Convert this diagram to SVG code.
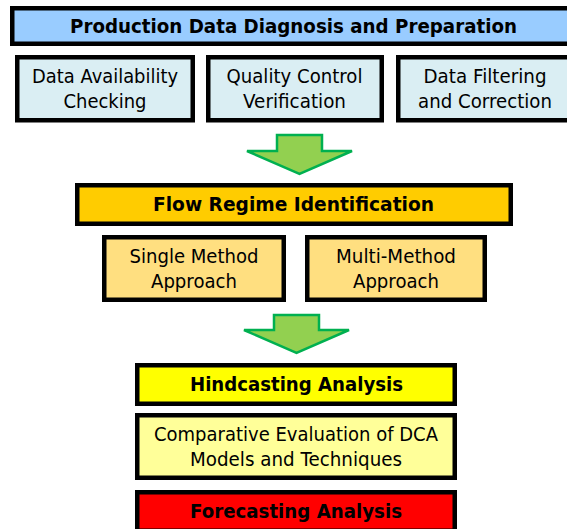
<svg xmlns="http://www.w3.org/2000/svg" width="567" height="529" viewBox="0 0 567 529">
<style>
.box{stroke:#000;stroke-width:4.5}
.t{font-family:"DejaVu Sans","Liberation Sans",sans-serif;font-size:19.5px;fill:#000;text-anchor:middle}
.b{font-weight:bold;font-size:19px}
.arr{fill:#92D050;stroke:#00B050;stroke-width:2.5;stroke-linejoin:miter}
</style>
<rect width="567" height="529" fill="#fff"/>
<g id="production-data">
<rect class="box" x="12.25" y="8.25" width="570" height="35.5" fill="#99CCFF"/>
<text class="t b" x="293.5" y="33" textLength="447" lengthAdjust="spacingAndGlyphs">Production Data Diagnosis and Preparation</text>
</g>
<g id="data-availability">
<rect class="box" x="17.25" y="57.25" width="175.5" height="63" fill="#DAEEF3"/>
<text class="t" x="105" y="83" textLength="146" lengthAdjust="spacingAndGlyphs">Data Availability</text>
<text class="t" x="105" y="108" textLength="83" lengthAdjust="spacingAndGlyphs">Checking</text>
</g>
<g id="quality-control">
<rect class="box" x="208.25" y="57.25" width="173.5" height="63" fill="#DAEEF3"/>
<text class="t" x="294.5" y="83" textLength="136" lengthAdjust="spacingAndGlyphs">Quality Control</text>
<text class="t" x="294.5" y="108" textLength="103" lengthAdjust="spacingAndGlyphs">Verification</text>
</g>
<g id="data-filtering">
<rect class="box" x="398.25" y="57.25" width="175.5" height="63" fill="#DAEEF3"/>
<text class="t" x="485" y="83" textLength="123" lengthAdjust="spacingAndGlyphs">Data Filtering</text>
<text class="t" x="485" y="108" textLength="134" lengthAdjust="spacingAndGlyphs">and Correction</text>
</g>
<g id="flow-regime">
<rect class="box" x="77.25" y="185.25" width="433.5" height="38.5" fill="#FFCC00"/>
<text class="t b" x="293.5" y="211" textLength="281" lengthAdjust="spacingAndGlyphs">Flow Regime Identification</text>
</g>
<g id="single-method">
<rect class="box" x="104.25" y="237.25" width="179.5" height="62.5" fill="#FFDF80"/>
<text class="t" x="194" y="263" textLength="129" lengthAdjust="spacingAndGlyphs">Single Method</text>
<text class="t" x="194" y="288" textLength="86" lengthAdjust="spacingAndGlyphs">Approach</text>
</g>
<g id="multi-method">
<rect class="box" x="307.25" y="237.25" width="177.5" height="62.5" fill="#FFDF80"/>
<text class="t" x="396" y="263" textLength="120" lengthAdjust="spacingAndGlyphs">Multi-Method</text>
<text class="t" x="396" y="288" textLength="86" lengthAdjust="spacingAndGlyphs">Approach</text>
</g>
<g id="hindcasting">
<rect class="box" x="137.25" y="365.25" width="317.5" height="38.5" fill="#FFFF00"/>
<text class="t b" x="296.5" y="391" textLength="213" lengthAdjust="spacingAndGlyphs">Hindcasting Analysis</text>
</g>
<g id="comparative">
<rect class="box" x="137.25" y="415.25" width="317.5" height="62.5" fill="#FFFF99"/>
<text class="t" x="296" y="441" textLength="284" lengthAdjust="spacingAndGlyphs">Comparative Evaluation of DCA</text>
<text class="t" x="296" y="466" textLength="212" lengthAdjust="spacingAndGlyphs">Models and Techniques</text>
</g>
<g id="forecasting">
<rect class="box" x="137.25" y="492.25" width="317.5" height="38.5" fill="#FF0000"/>
<text class="t b" x="296" y="518" textLength="212" lengthAdjust="spacingAndGlyphs">Forecasting Analysis</text>
</g>
<g id="connectors">
<polygon class="arr" points="277,135 322,135 322,151 352,151 299.5,174 247,151 277,151"/>
<polygon class="arr" points="274,315 319,315 319,330 349,330 296.5,353 244,330 274,330"/>
</g>
</svg>
